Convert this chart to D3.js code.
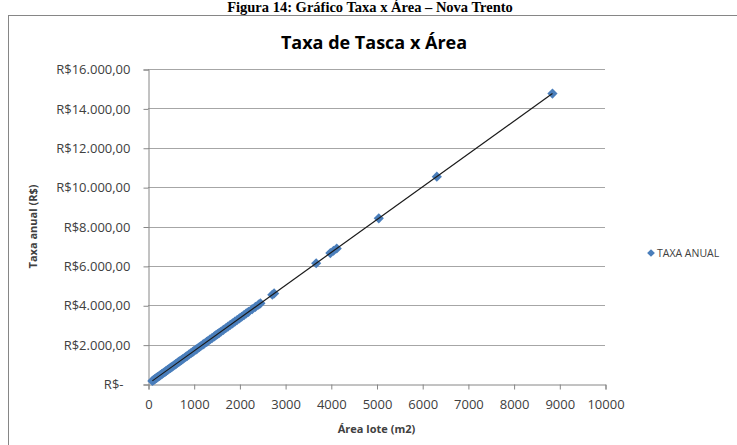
<!DOCTYPE html>
<html>
<head>
<meta charset="utf-8">
<script src="https://cdn.jsdelivr.net/npm/d3@7"></script>
<style>
  body { margin: 0; background: #fff; }
  svg { display: block; }
  text { font-family: "Open Sans", sans-serif; fill: #404040; }
</style>
</head>
<body>
<svg id="chart"></svg>
<script>
// lot area (m2) and annual fee (R$)
var areas = [95,120,140,160,180,200,220,250,270,300,
  320,350,380,400,430,450,480,500,530,560,
  600,620,650,680,700,730,760,800,830,860,
  900,940,980,1000,1050,1080,1120,1150,1200,1230,
  1280,1300,1350,1400,1450,1480,1520,1560,1600,1650,
  1700,1750,1800,1850,1900,1950,2000,2050,2100,2150,
  2200,2280,2350,2420,2460,
  2720,2760,3680,3990,4060,4130,5050,6320,8850];
var taxas = [158,200,233,267,300,333,367,417,450,500,
  533,583,633,667,717,750,800,833,883,933,
  1000,1033,1083,1133,1167,1217,1267,1333,1383,1433,
  1500,1567,1633,1667,1750,1800,1867,1917,2000,2050,
  2133,2167,2250,2333,2417,2467,2533,2600,2667,2750,
  2833,2917,3000,3083,3167,3250,3333,3417,3500,3583,
  3667,3800,3917,4033,4100,
  4533,4600,6133,6650,6767,6883,8417,10533,14750];
var xTicks = [0,1000,2000,3000,4000,5000,6000,7000,8000,9000,10000];
var yTicks = [0,2000,4000,6000,8000,10000,12000,14000,16000];

var W = 737, H = 445;
var plot = { left: 148, right: 605, top: 69, bottom: 384 };

var svg = d3.select("#chart").attr("width", W).attr("height", H);

// chart frame
svg.append("rect")
  .attr("x", 8.5).attr("y", 15.5)
  .attr("width", 740).attr("height", 440)
  .attr("fill", "#fff")
  .attr("stroke", "#868686");

// figure caption above the frame
svg.append("text")
  .attr("x", 370).attr("y", 12)
  .attr("text-anchor", "middle")
  .style("font-family", "'Liberation Serif', serif")
  .style("font-weight", "bold")
  .style("font-size", "14.5px")
  .style("fill", "#000")
  .text("Figura 14: Gráfico Taxa x Área – Nova Trento");

var x = d3.scaleLinear().domain([0, 10000]).range([plot.left, plot.right]);
var y = d3.scaleLinear().domain([0, 16000]).range([plot.bottom, plot.top]);

// gridlines
svg.append("g")
  .selectAll("line").data(yTicks.slice(1)).enter().append("line")
    .attr("x1", plot.left).attr("x2", plot.right)
    .attr("y1", d => Math.round(y(d)) + 0.5)
    .attr("y2", d => Math.round(y(d)) + 0.5)
    .attr("stroke", "#a6a6a6");

function money(d) {
  if (d === 0) return "R$-";
  return "R$" + d3.format(",.2f")(d).replace(/,/g, "#").replace(".", ",").replace(/#/g, ".");
}

// y axis
var yAxis = svg.append("g")
  .attr("transform", "translate(" + (plot.left + 0.5) + ",0.5)")
  .call(d3.axisLeft(y).tickValues(yTicks).tickSize(5).tickPadding(13).tickFormat(money));
yAxis.selectAll("text").style("font-size", "13px").style("fill", "#404040")
  .attr("dx", d => d === 0 ? -7 : 0);

// x axis
var xAxis = svg.append("g")
  .attr("transform", "translate(0.5," + (plot.bottom + 0.5) + ")")
  .call(d3.axisBottom(x).tickValues(xTicks).tickSize(5).tickPadding(10).tickFormat(d3.format("d")));
xAxis.selectAll("text").style("font-size", "13px").style("fill", "#404040");

svg.selectAll(".domain, .tick line").attr("stroke", "#868686");

// axis titles
svg.append("text")
  .attr("x", (plot.left + plot.right) / 2).attr("y", 433)
  .attr("text-anchor", "middle")
  .style("font-weight", "bold").style("font-size", "11px")
  .text("Área lote (m2)");

svg.append("text")
  .attr("transform", "translate(37," + (plot.top + plot.bottom) / 2 + ") rotate(-90)")
  .attr("text-anchor", "middle")
  .style("font-weight", "bold").style("font-size", "11px")
  .text("Taxa anual (R$)");

// title
svg.append("text")
  .attr("x", 374).attr("y", 49)
  .attr("text-anchor", "middle")
  .style("font-weight", "bold").style("font-size", "18px")
  .style("fill", "#000")
  .text("Taxa de Tasca x Área");

// points
var diamond = d3.symbol().type(d3.symbolSquare).size(52);
svg.append("g")
    .attr("fill", "#4a7ebb")
  .selectAll("path").data(areas).enter().append("path")
    .attr("d", diamond)
    .attr("transform", (d, i) => "translate(" + x(d) + "," + y(taxas[i]) + ") rotate(45)");

// linear trendline
var mx = d3.mean(areas), my = d3.mean(taxas);
var sxy = d3.sum(areas, (d, i) => (d - mx) * (taxas[i] - my));
var sxx = d3.sum(areas, d => (d - mx) * (d - mx));
var slope = sxy / sxx, icpt = my - slope * mx;
var ends = d3.extent(areas);
svg.append("path")
  .datum(ends)
  .attr("fill", "none")
  .attr("stroke", "#1a1a1a")
  .attr("stroke-width", 1.2)
  .attr("d", d3.line().x(d => x(d)).y(d => y(icpt + slope * d)));

// legend
var legend = svg.append("g").attr("transform", "translate(651,253)");
legend.append("path")
  .attr("d", d3.symbol().type(d3.symbolSquare).size(30))
  .attr("transform", "rotate(45)")
  .attr("fill", "#4a7ebb");
legend.append("text")
  .attr("x", 6).attr("y", 4)
  .style("font-size", "10.5px")
  .text("TAXA ANUAL");
</script>
</body>
</html>
